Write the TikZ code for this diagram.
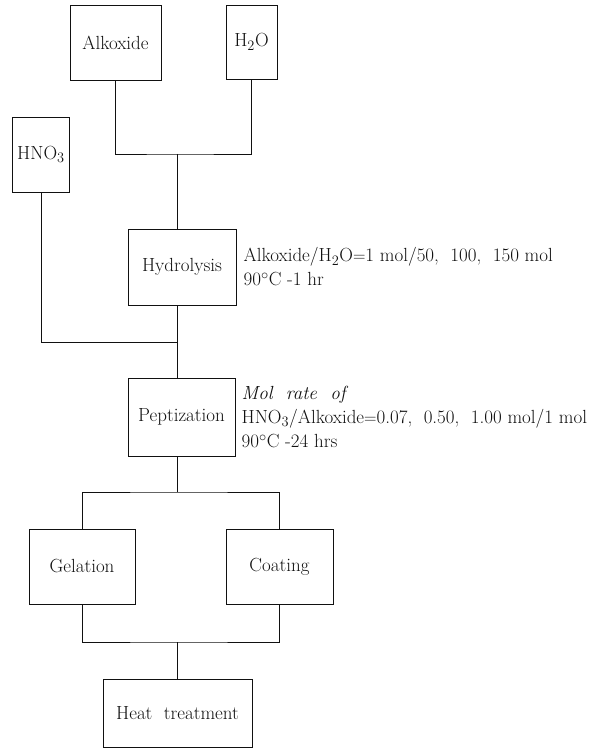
\documentclass[tikz,border=0pt]{standalone}
\usepackage{tikz}
\usetikzlibrary{calc,positioning}
\definecolor{inkx}{HTML}{111111}
\tikzset{
  box/.style={draw=inkx,line width=0.9pt,inner sep=0pt,align=center,text=inkx,font=\fontsize{19}{20}\selectfont},
  ln/.style={line width=0.9pt,inkx},
  note/.style={align=left,inner sep=0pt,text=inkx,font=\fontsize{19}{24}\selectfont}
}

\begin{document}
\begin{tikzpicture}[x=1pt,y=-1pt]
\useasboundingbox (0,0) rectangle (611,754);
% raw materials
\node[box,minimum width=91pt,minimum height=75pt] (alk) at (115.5,42.5) {Alkoxide};
\node[box,minimum width=51pt,minimum height=74pt] (water) at (251.5,42) {H$_2$O};
\node[box,minimum width=57pt,minimum height=75pt] (hno) at (41,154.5) {HNO$_3$};
% process steps
\node[box,minimum width=108pt,minimum height=76pt] (hyd) at (182,267) {Hydrolysis};
\node[box,minimum width=107pt,minimum height=78pt] (pep) at (181.5,417) {Peptization};
\node[box,minimum width=106pt,minimum height=75pt] (gel) at (82,566.5) {Gelation};
\node[box,minimum width=107pt,minimum height=75pt] (coat) at (279.5,566.5) {Coating};
\node[box,minimum width=149pt,minimum height=68pt] (heat) at (177.5,713) {Heat\ \ treatment};
% conditions
\node[note,right=7pt of hyd] (hydnote) {Alkoxide/H$_2$O$=$1 mol/50,\ \ 100,\ \ 150 mol\\90$^\circ$C -1 hr};
\node[note,right=6pt of pep] (pepnote) {\textit{Mol\ \ rate\ \ of}\\HNO$_3$/Alkoxide$=$0.07,\ \ 0.50,\ \ 1.00 mol/1 mol\\90$^\circ$C -24 hrs};
% junctions
\coordinate (j1) at (177,154);
\coordinate (j2) at (177,342);
\coordinate (j3) at (177,492);
\coordinate (j4) at (177,642);
% lines
\draw[ln] (alk.south) |- (j1) -| (water.south);
\draw[ln] (j1) -- (j1 |- hyd.north);
\draw[ln] (hno.south) |- (j2);
\draw[ln] (j1 |- hyd.south) -- (j1 |- pep.north);
\draw[ln] (j3 |- pep.south) -- (j3);
\draw[ln] (gel.north) |- (j3) -| (coat.north);
\draw[ln] (gel.south) |- (j4) -| (coat.south);
\draw[ln] (j4) -- (j4 |- heat.north);
\end{tikzpicture}
\end{document}
